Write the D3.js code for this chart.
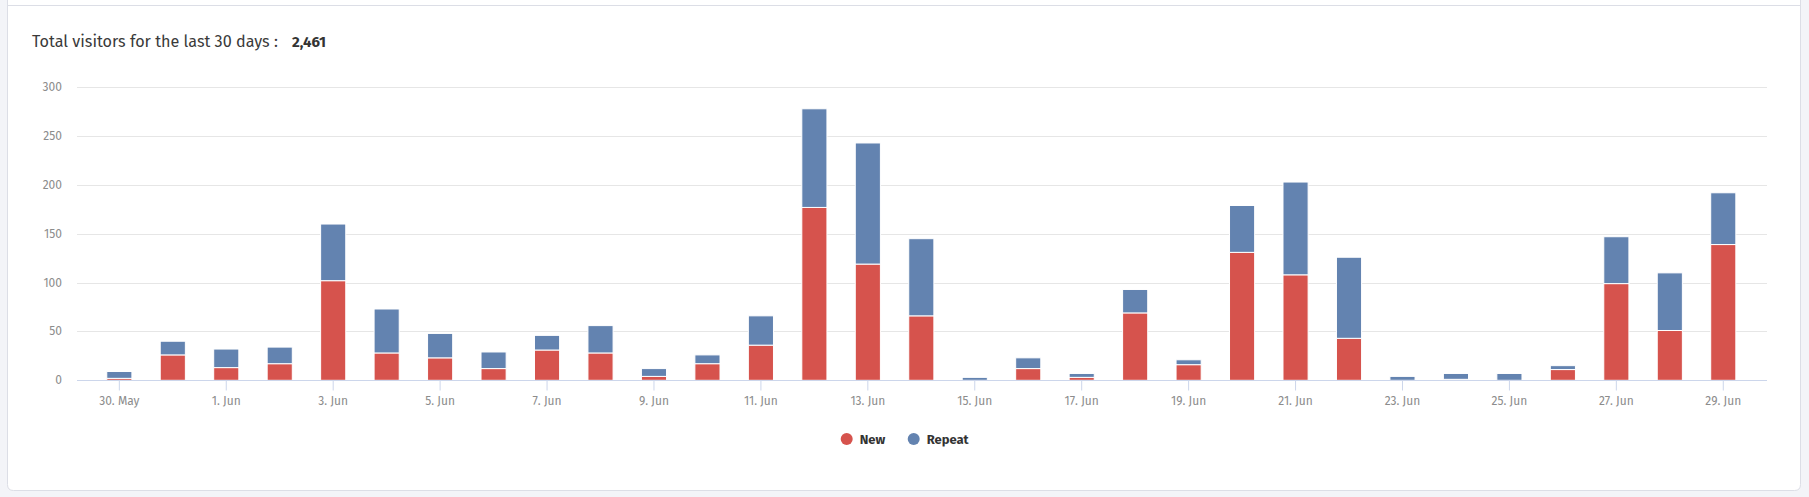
<!DOCTYPE html>
<html>
<head>
<meta charset="utf-8">
<script src="https://cdn.jsdelivr.net/npm/d3@7"></script>
<style>
  html, body { margin: 0; padding: 0; background: #f3f4f8; }
  svg { display: block; font-family: "Fira Sans", Lato, "Open Sans", sans-serif; }
</style>
</head>
<body>
<svg id="chart" width="1809" height="497"></svg>
<script>
const days = ["30. May","31. May","1. Jun","2. Jun","3. Jun","4. Jun","5. Jun","6. Jun","7. Jun","8. Jun",
  "9. Jun","10. Jun","11. Jun","12. Jun","13. Jun","14. Jun","15. Jun","16. Jun","17. Jun","18. Jun",
  "19. Jun","20. Jun","21. Jun","22. Jun","23. Jun","24. Jun","25. Jun","26. Jun","27. Jun","28. Jun","29. Jun"];
const newVisitors    = [2,26,13,17,102,28,23,12,31,28,4,17,36,177,119,66,0,12,3,69,16,131,108,43,0,1,0,11,99,51,139];
const repeatVisitors = [7,14,19,17,58,45,25,17,15,28,8,9,30,101,124,79,3,11,4,24,5,48,95,83,4,6,7,4,48,59,53];
const yTicks = [0,50,100,150,200,250,300];
const seriesNames = ["New","Repeat"];
const seriesColors = ["#d6534d","#6383b0"];
const totalLabel = "Total visitors for the last 30 days :";
const totalValue = "2,461";

const svg = d3.select("#chart");

// card
svg.append("path")
  .attr("d", "M7.5,-10 L7.5,484.5 Q7.5,490.5 13.5,490.5 L1794.5,490.5 Q1800.5,490.5 1800.5,484.5 L1800.5,-10")
  .attr("fill", "#ffffff").attr("stroke", "#dcdee6").attr("stroke-width", 1);
svg.append("line").attr("x1", 7.5).attr("x2", 1800.5).attr("y1", 5.5).attr("y2", 5.5)
  .attr("stroke", "#dcdee6");

// title
svg.append("text").attr("x", 32).attr("y", 47).attr("font-size", 16.2).attr("fill", "#3a3a3a")
  .text(totalLabel);
svg.append("text").attr("x", 292).attr("y", 47).attr("font-size", 15).attr("font-weight", "bold")
  .attr("fill", "#333").text(totalValue);

const x = d3.scaleBand().domain(days).range([92.6, 1750]).paddingInner(0.53).paddingOuter(0.265);
const y = d3.scaleLinear().domain([0, 300]).range([380.3, 87.3]);

// grid
svg.append("g").selectAll("line").data(yTicks.filter(d => d > 0)).join("line")
  .attr("x1", 77).attr("x2", 1767)
  .attr("y1", d => Math.round(y(d)) + 0.5).attr("y2", d => Math.round(y(d)) + 0.5)
  .attr("stroke", "#e6e6e6");

// y labels
svg.append("g").selectAll("text").data(yTicks).join("text")
  .attr("x", 62).attr("y", d => y(d) + 4)
  .attr("text-anchor", "end").attr("font-size", 12).attr("fill", "#8c8c8c")
  .text(d => d);

// stacked bars
const rows = days.map((d, i) => ({ day: d, New: newVisitors[i], Repeat: repeatVisitors[i] }));
const stack = d3.stack().keys(seriesNames)(rows);
svg.append("g").selectAll("g").data(stack).join("g")
  .attr("fill", (s, i) => seriesColors[i])
  .selectAll("rect").data(s => s.filter(d => d[1] - d[0] > 0)).join("rect")
  .attr("x", d => x(d.data.day))
  .attr("width", x.bandwidth())
  .attr("y", d => y(d[1]))
  .attr("height", d => y(d[0]) - y(d[1]))
  .attr("stroke", "#ffffff").attr("stroke-width", 1);

// x axis
const tickDays = days.filter((d, i) => i % 2 === 0);
const xAxis = svg.append("g").attr("transform", "translate(0,380.5)")
  .call(d3.axisBottom(x).tickValues(tickDays).tickSize(10).tickPadding(6));
xAxis.select(".domain").remove();
xAxis.append("line").attr("x1", 77).attr("x2", 1767).attr("stroke", "#ccd6eb");
xAxis.selectAll(".tick line").attr("stroke", "#ccd6eb");
xAxis.selectAll(".tick text").attr("font-size", 12).attr("fill", "#8c8c8c")
  .attr("font-family", "\"Fira Sans\", Lato, \"Open Sans\", sans-serif");

// legend
const legend = svg.append("g");
const legendX = [846.7, 913.7];
seriesNames.forEach((name, i) => {
  legend.append("circle").attr("cx", legendX[i]).attr("cy", 439).attr("r", 6).attr("fill", seriesColors[i]);
  legend.append("text").attr("x", legendX[i] + 13).attr("y", 444)
    .attr("font-size", 13).attr("font-weight", "bold").attr("fill", "#333").text(name);
});
</script>
</body>
</html>
